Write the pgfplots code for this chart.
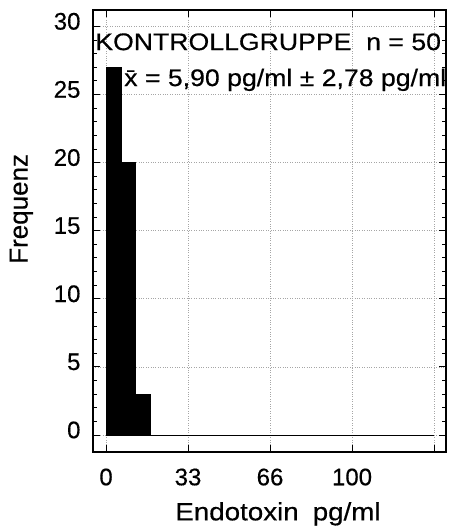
\documentclass[border=0pt]{standalone}
\usepackage{fontspec}
\setmainfont{Liberation Sans}[FakeBold=0.4]
\newfontfamily\widefont[FakeStretch=1.11, FakeBold=0.4]{Liberation Sans}
\usepackage{pgfplots}
\pgfplotsset{compat=1.18}

\begin{document}
\begin{tikzpicture}
\begin{axis}[
    name=main,
    overlay,
    scale only axis,
    width=353pt, height=442pt,
    xmin=-5.3, xmax=138.2,
    ymin=-1.25, ymax=31.2,
    xtick={0,33.333,66.667,100,133.333},
    xticklabels={0,33,66,100,},
    minor x tick num=3,
    ytick={0,5,...,30},
    minor y tick num=4,
    tick align=inside,
    major tick length=7pt,
    minor tick length=4pt,
    axis line style={line width=1.2pt},
    every tick/.style={black, line width=0.8pt},
    grid=major,
    major grid style={gray!70, dotted, line width=0.7pt},
    /pgf/number format/assume math mode=true,
    ticklabel style={font=\fontsize{24}{27}\selectfont},
    yticklabel style={xshift=-9pt, yshift=5pt},
    xticklabel style={yshift=-13pt},
    xlabel={Endotoxin\hspace{14pt}pg/ml},
    ylabel={Frequenz},
    label style={inner sep=0pt},
    xlabel style={at={(axis description cs:0.524,-0.140)}, anchor=center,
        font=\widefont\fontsize{25}{28}\selectfont},
    ylabel style={at={(axis description cs:-0.203,0.550)}, anchor=center,
        font=\fontsize{26}{28}\selectfont},
]
% Histogramm (Klassenbreite 6 pg/ml)
\addplot[ybar interval, fill=black, draw=black] coordinates {
    (0,27) (6,20) (12,3) (18,3)
};
% Grundlinie
\addplot[black, line width=0.8pt] coordinates {(0,0) (133.3,0)};

\node[anchor=west, inner sep=0pt, font=\widefont\fontsize{24}{28}\selectfont]
    at (rel axis cs:0.006,0.928) {KONTROLLGRUPPE\ \ n = 50};
\node[anchor=west, inner sep=0pt, font=\widefont\fontsize{24}{28}\selectfont]
    at (rel axis cs:0.088,0.842) {\=x = 5,90 pg/ml ± 2,78 pg/ml};
\end{axis}
\path (main.south west) ++(-93pt,-74pt) rectangle ++(448pt,526pt);
\end{tikzpicture}
\end{document}
